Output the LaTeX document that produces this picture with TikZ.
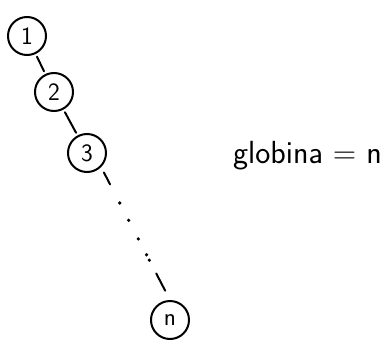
\documentclass[tikz,border=0pt]{standalone}
\usepackage{amsmath, amssymb}
\usepackage{tikz}
\usetikzlibrary{calc}

\tikzset{
	vozel/.style={draw, circle, line width=2pt, minimum size=38pt, inner sep=0pt, font=\sffamily\fontsize{25}{28}\selectfont},
	povezava/.style={line width=2pt, line cap=round, shorten >=3pt, shorten <=3pt}
}

\begin{document}
\begin{tikzpicture}[x=1pt, y=-1pt]
		\useasboundingbox (0,0) rectangle (391,340);
		\node[vozel] (v1) at (27,36) {1};
		\node[vozel] (v2) at (54,92) {2};
		\node[vozel] (v3) at (87,153) {3};
		\node[vozel] (vn) at (170,320) {n};
		\draw[povezava] (v1) -- (v2);
		\draw[povezava] (v2) -- (v3);
		\path (v3.south east) -- (vn.north)
			coordinate[pos=0.04] (a1) coordinate[pos=0.13] (a2)
			coordinate[pos=0.80] (b1) coordinate[pos=0.93] (b2);
		\draw[povezava, shorten >=0pt, shorten <=0pt] (a1) -- (a2);
		\draw[povezava, shorten >=0pt, shorten <=0pt] (b1) -- (b2);
		\foreach \p in {0.27, 0.40, 0.54, 0.66, 0.70} {
			\fill ($(v3.south east)!\p!(vn.north)$) circle (1.8pt);
		}
		\node[anchor=base west, inner sep=0pt, font=\sffamily\fontsize{32}{36}\selectfont] (globina) at (233,163) {globina = n};
	\end{tikzpicture}
\end{document}
